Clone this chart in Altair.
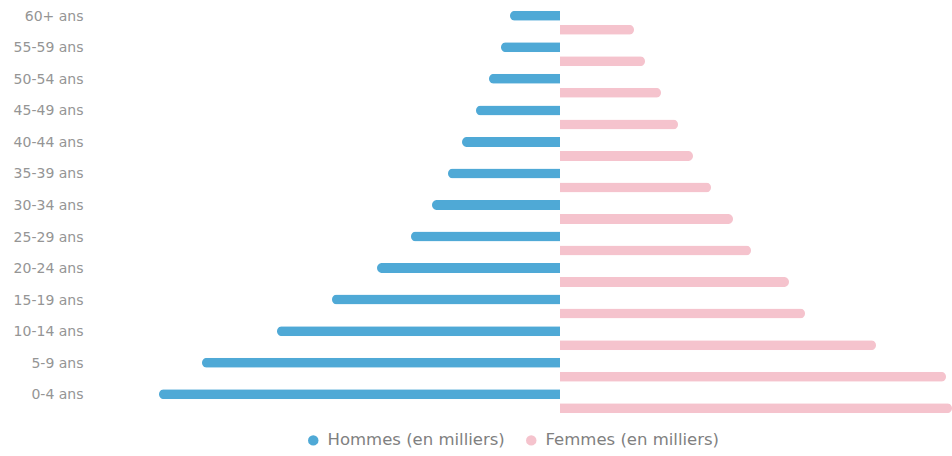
import altair as alt
import pandas as pd

ages = ["60+ ans", "55-59 ans", "50-54 ans", "45-49 ans", "40-44 ans", "35-39 ans",
        "30-34 ans", "25-29 ans", "20-24 ans", "15-19 ans", "10-14 ans", "5-9 ans", "0-4 ans"]
hommes = [50, 59, 71, 84, 98, 112, 128, 149, 183, 228, 283, 358, 401]
femmes = [74, 85, 101, 118, 133, 151, 173, 191, 229, 245, 316, 386, 392]
series = ["Hommes (en milliers)", "Femmes (en milliers)"]
colors = ["#4fa9d6", "#f5c3cd"]

df = pd.DataFrame(
    [{"age": a, "serie": series[0], "valeur": h} for a, h in zip(ages, hommes)]
    + [{"age": a, "serie": series[1], "valeur": f} for a, f in zip(ages, femmes)]
)

color = alt.Color(
    "serie:N",
    scale=alt.Scale(domain=series, range=colors),
    legend=alt.Legend(
        title=None, orient="none", direction="horizontal", legendX=185, legendY=432,
        symbolType="circle", symbolSize=110, symbolStrokeWidth=0,
        labelFont="DejaVu Sans", labelFontSize=16.5, labelColor="#808080",
        labelLimit=400, columnPadding=18, labelOffset=6,
    ),
)

y = alt.Y(
    "age:N", sort=ages, title=None,
    scale=alt.Scale(paddingInner=0, paddingOuter=0),
    axis=alt.Axis(domain=False, ticks=False, grid=False, labelPadding=37, labelOffset=1,
                  labelFont="DejaVu Sans", labelFontSize=14, labelColor="#959595"),
)
xscale = alt.Scale(domain=[-440, 392])

base = alt.Chart(df)

men = base.transform_filter(alt.datum.serie == series[0]).transform_calculate(
    x="-datum.valeur"
).mark_bar(size=10, cornerRadiusTopLeft=5, cornerRadiusBottomLeft=5).encode(
    x=alt.X("x:Q", scale=xscale, axis=None),
    y=y,
    color=color,
)

women = base.transform_filter(alt.datum.serie == series[1]).mark_bar(
    size=10, cornerRadiusTopRight=5, cornerRadiusBottomRight=5, yOffset=14
).encode(
    x=alt.X("valeur:Q", scale=xscale, axis=None),
    y=y,
    color=color,
)

chart = alt.layer(men, women).properties(
    width=832, height=410,
    autosize=alt.AutoSizeParams(type="none"),
    padding={"left": 120, "top": 0, "right": 0, "bottom": 46},
).configure_view(stroke=None)

chart.save("out.html", embed_options={"renderer": "svg", "actions": False})
